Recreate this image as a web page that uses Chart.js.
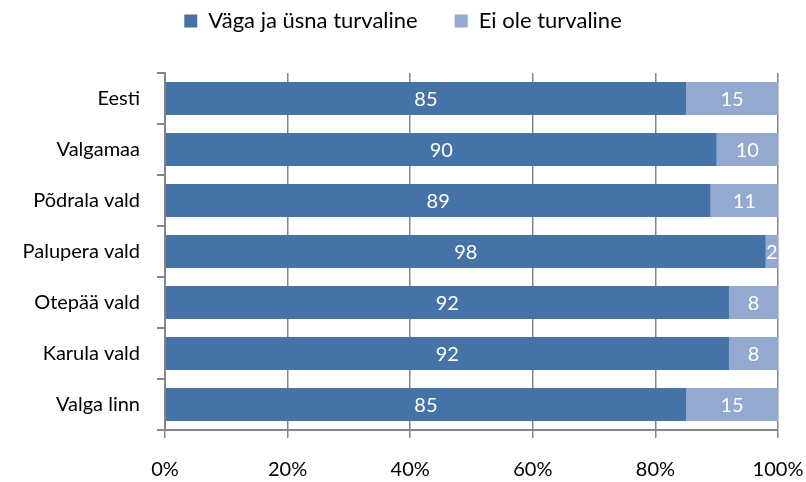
<!DOCTYPE html>
<html>
<head>
<meta charset="utf-8">
<script src="https://cdn.jsdelivr.net/npm/chart.js@4/dist/chart.umd.min.js"></script>
<style>
  html, body { margin: 0; padding: 0; background: #fff; }
  #wrap { width: 806px; height: 482px; }
</style>
</head>
<body>
<div id="wrap"><canvas id="myChart" width="806" height="482"></canvas></div>
<script>
const ctx = document.getElementById("myChart");

// kategooriad
var categories = ["Eesti", "Valgamaa", "Põdrala vald", "Palupera vald", "Otepää vald", "Karula vald", "Valga linn"];
// seeriad
var turvaline = [85, 90, 89, 98, 92, 92, 85];
var eiTurvaline = [15, 10, 11, 2, 8, 8, 15];
var xTicks = [0, 20, 40, 60, 80, 100];

var FONT = "Lato, 'Liberation Sans', sans-serif";

// väärtused ribade keskele
var barLabels = {
  id: "barLabels",
  afterDatasetsDraw(chart) {
    var c = chart.ctx;
    c.save();
    c.fillStyle = "#ffffff";
    c.font = "20px " + FONT;
    c.textAlign = "center";
    c.textBaseline = "middle";
    chart.data.datasets.forEach(function (ds, i) {
      chart.getDatasetMeta(i).data.forEach(function (bar, j) {
        var p = bar.getProps(["x", "base", "y"], true);
        c.fillText(ds.data[j], (p.x + p.base) / 2, p.y + 1);
      });
    });
    c.restore();
  },
};

// legendi kõrgus fikseeritud
var legendHeight = {
  id: "legendHeight",
  beforeInit(chart) {
    var fit = chart.legend.fit;
    chart.legend.fit = function () {
      fit.bind(chart.legend)();
      this.height = 100;
    };
  },
};

new Chart(ctx, {
  type: "bar",
  data: {
    labels: categories,
    datasets: [
      {
        label: "Väga ja üsna turvaline",
        data: turvaline,
        backgroundColor: "#4572A7",
        categoryPercentage: 1,
        barPercentage: 0.65,
      },
      {
        label: "Ei ole turvaline",
        data: eiTurvaline,
        backgroundColor: "#93A9CF",
        categoryPercentage: 1,
        barPercentage: 0.65,
      },
    ],
  },
  options: {
    indexAxis: "y",
    responsive: false,
    animation: false,
    layout: { padding: { top: -27, right: 0, bottom: 0, left: 0 } },
    plugins: {
      tooltip: { enabled: false },
      legend: {
        position: "top",
        labels: {
          boxWidth: 13,
          boxHeight: 13,
          padding: 37,
          color: "#000",
          font: { size: 22, family: FONT },
        },
      },
    },
    scales: {
      x: {
        stacked: true,
        min: 0,
        max: 100,
        afterBuildTicks: function (scale) {
          scale.ticks = xTicks.map(function (v) { return { value: v }; });
        },
        afterFit: function (scale) {
          scale.height = 52;
          scale.paddingLeft = 0;
          scale.paddingRight = 28;
        },
        border: { color: "#868686", width: 2 },
        grid: { color: "#868686", lineWidth: 1.5, tickLength: 8 },
        ticks: {
          color: "#000",
          padding: 20,
          maxRotation: 0,
          font: { size: 20, family: FONT },
          callback: function (v) { return v + "%"; },
        },
      },
      y: {
        stacked: true,
        afterFit: function (scale) { scale.width = 165; },
        border: { color: "#868686", width: 2 },
        grid: { drawOnChartArea: false, color: "#868686", lineWidth: 2, tickLength: 8 },
        ticks: {
          color: "#000",
          padding: 17,
          font: { size: 20, family: FONT },
        },
      },
    },
  },
  plugins: [barLabels, legendHeight],
});
</script>
</body>
</html>
